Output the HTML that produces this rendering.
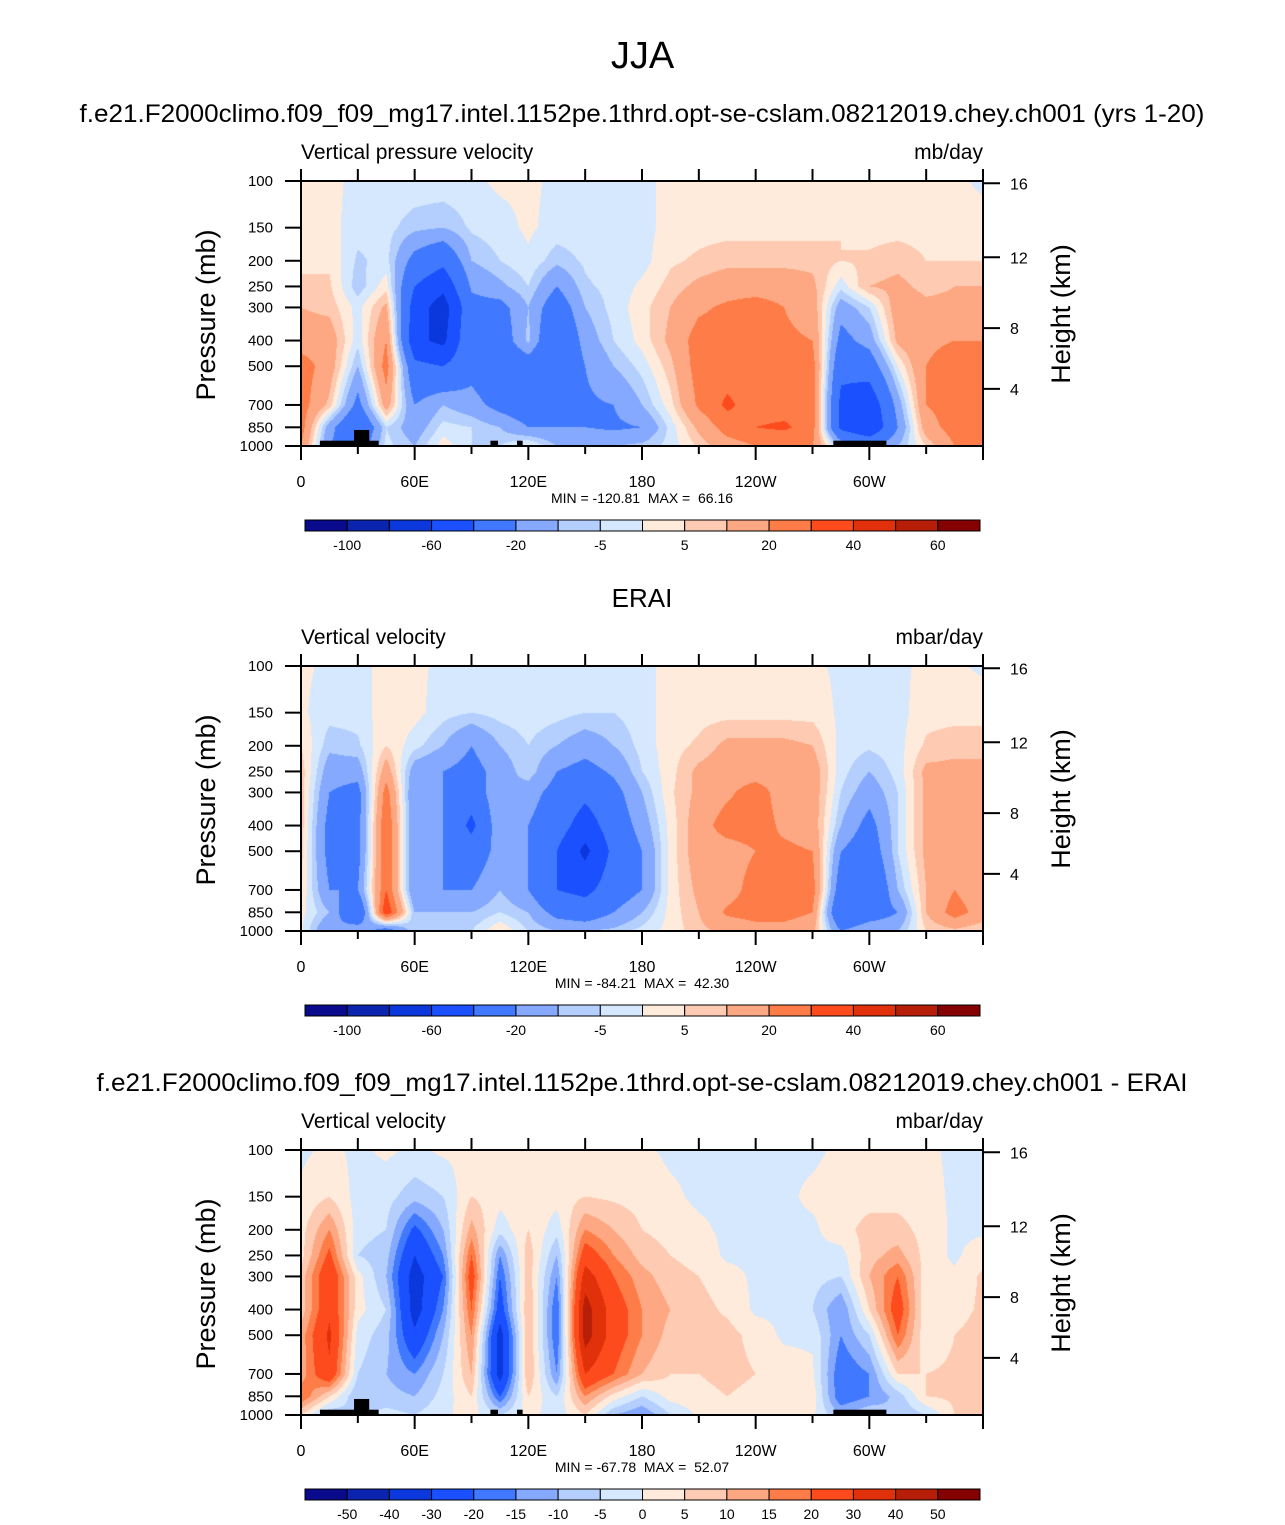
<!DOCTYPE html>
<html><head><meta charset="utf-8">
<style>
html,body{margin:0;padding:0;background:#fff;}
body{width:1285px;height:1525px;position:relative;overflow:hidden;font-family:"Liberation Sans",Arial,sans-serif;}
.t{position:absolute;white-space:nowrap;color:#000;}
canvas{position:absolute;}
svg{position:absolute;left:0;top:0;}
svg text{white-space:pre;}
</style></head>
<body>
<div class="t" style="left:0;width:1285px;text-align:center;top:35px;font-size:38px;">JJA</div>
<canvas id="c1" width="682" height="265" style="left:301px;top:181px"></canvas>
<canvas id="c2" width="682" height="265" style="left:301px;top:666px"></canvas>
<canvas id="c3" width="682" height="265" style="left:301px;top:1150px"></canvas>
<svg id="ov" width="1285" height="1525"></svg>
<script>
// ---- data ----
const lons = [0,15,30,45,60,75,90,105,120,135,150,165,180,195,210,225,240,255,270,285,300,315,330,345,360];
const pressures = [100,150,200,250,300,400,500,700,850,1000];
const pressureTicks = [100,150,200,250,300,400,500,700,850,1000];
const heightTicks = ["16","12","8","4"];
const heightPressures = [102,194,359,609];
const lonTickLabels = ["0","60E","120E","180","120W","60W"];
const levelsFull = [-100,-80,-60,-40,-20,-10,-5,0,5,10,20,30,40,50,60];
const levelsDiff = [-50,-40,-30,-20,-15,-10,-5,0,5,10,15,20,30,40,50];
const cbLabelsFull = ["-100","","-60","","-20","","-5","","5","","20","","40","","60"];
const cbLabelsDiff = ["-50","-40","-30","-20","-15","-10","-5","0","5","10","15","20","30","40","50"];
const palette = ["#0a0a8c","#0a24b0","#0a38dc","#1a50ff","#4079ff","#84a9ff","#b4cefd","#d5e8fd","#ffebdc","#fecab2","#fda882","#fe7c47","#fd4b1d","#e1310a","#b71e08","#850000"];
// values per longitude column, top (100mb) to bottom (1000mb)
const modelValues = [
[2,2,3,7,10,15,25,25,25,20],
[2,2,4,6,8,15,15,8,-15,-20],
[-2,-3,-6,-8,-2,-3,-10,-25,-40,-30],
[-1,-3,-3,3,12,20,25,15,-5,-3],
[-1,-8,-25,-40,-50,-55,-35,-20,-15,-10],
[-1,-10,-35,-55,-70,-65,-40,-10,-3,3],
[-1,-4,-10,-18,-25,-22,-25,-15,-5,-5],
[1,-2,-5,-12,-25,-30,-35,-25,-10,-5],
[1,1,-1,-5,-10,-8,-30,-30,-20,2],
[-1,-2,-8,-20,-30,-40,-40,-30,-20,-10],
[-2,-2,-4,-6,-10,-15,-20,-22,-20,-10],
[-2,-2,-2,-3,-3,-5,-10,-20,-22,-10],
[-2,-2,-2,1,3,2,-3,-10,-20,-8],
[2,2,4,7,10,12,8,3,-3,-3],
[2,3,6,12,18,25,25,22,12,6],
[2,3,8,15,22,25,25,32,25,15],
[2,3,8,15,25,25,25,25,30,20],
[2,3,8,15,20,22,25,25,32,20],
[2,3,8,12,15,20,25,25,25,20],
[2,5,5,-3,-15,-25,-35,-45,-45,-10],
[2,3,6,10,-5,-15,-30,-55,-60,-20],
[2,3,8,12,15,12,0,-15,-20,-10],
[2,3,5,8,12,18,20,20,15,5],
[1,3,5,10,12,20,25,25,25,20],
[-1,2,5,10,15,20,25,25,25,20]];
const eraiValues = [
[1,1,5,8,8,8,7,5,2,1],
[-1,-3,-8,-15,-20,-25,-25,-20,-10,-20],
[-1,-3,-6,-15,-25,-25,-25,-20,-40,-10],
[1,3,5,15,25,30,30,30,40,-30],
[1,2,-3,-15,-20,-20,-20,-20,-10,-5],
[-1,-3,-10,-20,-20,-20,-20,-20,-10,-5],
[-1,-5,-20,-25,-30,-45,-30,-20,-10,-5],
[-1,-3,-10,-15,-10,-10,-15,-10,-5,5],
[-1,-2,-5,-6,-15,-20,-20,-20,-10,-5],
[-1,-3,-10,-20,-25,-30,-40,-40,-25,-10],
[-1,-5,-15,-25,-35,-50,-65,-45,-30,-10],
[-1,-5,-10,-18,-25,-30,-35,-30,-20,-8],
[-1,-2,-3,-5,-10,-15,-20,-20,-10,-3],
[1,2,3,3,4,2,2,2,2,2],
[1,3,6,12,12,15,15,12,10,8],
[1,3,12,15,18,25,15,15,22,12],
[1,3,12,15,25,25,20,25,25,15],
[1,3,12,15,15,18,22,25,25,15],
[1,3,10,15,15,15,20,25,20,12],
[-1,-1,-2,-3,-5,-10,-20,-30,-40,-20],
[-1,-2,-4,-10,-15,-25,-30,-40,-30,-10],
[-1,-2,-2,-3,-5,-5,-5,-10,-20,-10],
[1,3,6,12,12,12,12,10,10,5],
[1,3,8,12,12,12,15,20,25,8],
[-1,3,8,12,12,12,12,12,15,5]];
const diffValues = [
[-1,1,3,3,7,7,12,12,20,5],
[1,5,15,22,28,28,32,28,5,-10],
[-1,-2,-3,-5,2,2,-2,-5,-10,-5],
[1,-3,-5,-8,-10,-5,-8,-10,-8,-3],
[-1,-8,-22,-30,-35,-35,-28,-15,-10,-5],
[1,-5,-10,-15,-20,-15,-10,-5,-3,-1],
[1,5,12,20,25,20,15,10,5,2],
[1,2,-3,-15,-20,-25,-35,-35,-20,-5],
[1,3,5,8,8,10,10,10,5,2],
[1,2,-3,-10,-15,-20,-20,-15,-5,-3],
[1,5,15,25,35,45,45,30,15,5],
[1,4,10,15,20,25,25,20,3,-10],
[1,3,5,8,12,15,15,10,-5,-15],
[-1,1,3,5,7,10,8,5,2,-5],
[-1,-1,1,3,5,7,7,5,3,1],
[-1,-1,-1,-1,2,4,7,7,5,2],
[-1,-1,-1,-1,-1,-1,3,5,3,1],
[-1,-1,-1,-1,-1,-1,-1,3,3,1],
[-1,1,-1,-1,-3,-5,-1,1,3,1],
[1,2,3,-2,-5,-15,-15,-20,-20,-10],
[1,3,7,8,10,5,-5,-15,-15,-5],
[1,3,7,12,20,25,20,5,-8,-10],
[1,2,3,3,2,1,1,5,5,-5],
[-1,-1,-1,-1,1,3,5,6,6,5],
[-1,-1,-1,3,6,6,7,10,8,5]];
// topography blocks
const topoLonStart = [10,28,100,114,281];
const topoLonEnd = [41,36,104,117,309];
const topoTopP = [955,870,955,955,955];

// ---- geometry ----
const X0=301, X1=983, PW=X1-X0, PH=265;
function xOf(lon){return X0 + lon/360*PW;}
function yOf(p, top){return top + (Math.log(p)-Math.log(100))/(Math.log(1000)-Math.log(100))*PH;}

function interp(vals, lon, lp){
  let i=Math.min(Math.floor(lon/15), lons.length-2);
  let fx=(lon-lons[i])/15;
  let lps=pressures.map(Math.log);
  let j=0; while(j<lps.length-2 && lp>lps[j+1]) j++;
  let fy=(lp-lps[j])/(lps[j+1]-lps[j]); fy=Math.max(0,Math.min(1,fy));
  let a=vals[i][j], b=vals[i+1][j], c=vals[i][j+1], d=vals[i+1][j+1];
  return (a*(1-fx)+b*fx)*(1-fy)+(c*(1-fx)+d*fx)*fy;
}
function hex(h){return [parseInt(h.substr(1,2),16),parseInt(h.substr(3,2),16),parseInt(h.substr(5,2),16)];}
const rgb=palette.map(hex);
function drawField(id, vals, levels){
  const cv=document.getElementById(id), ctx=cv.getContext('2d');
  const img=ctx.createImageData(PW,PH);
  for(let y=0;y<PH;y++){
    const lp=Math.log(100)+(y+0.5)/PH*(Math.log(1000)-Math.log(100));
    for(let x=0;x<PW;x++){
      const lon=(x+0.5)/PW*360;
      const v=interp(vals,lon,lp);
      let k=0; while(k<levels.length && v>=levels[k]) k++;
      const c=rgb[k], o=(y*PW+x)*4;
      img.data[o]=c[0];img.data[o+1]=c[1];img.data[o+2]=c[2];img.data[o+3]=255;
    }
  }
  ctx.putImageData(img,0,0);
}
drawField('c1',modelValues,levelsFull);
drawField('c2',eraiValues,levelsFull);
drawField('c3',diffValues,levelsDiff);

const NS='http://www.w3.org/2000/svg';
const ov=document.getElementById('ov');
function mk(tag,attrs,name){const e=document.createElementNS(NS,tag);for(const k in attrs)e.setAttribute(k,attrs[k]);


ov.appendChild(e);return e;}
function txt(x,y,s,size,anchor,name,rot,len){const e=mk('text',{x:x,y:y,'font-size':size,'text-anchor':anchor||'start','font-family':'Liberation Sans, Arial, sans-serif',fill:'#000'},name);
if(len){e.setAttribute('textLength',len);e.setAttribute('lengthAdjust','spacingAndGlyphs');}
if(rot)e.setAttribute('transform','rotate(-90 '+x+' '+y+')');e.textContent=s;return e;}

const panels=[
 {top:181,title:"f.e21.F2000climo.f09_f09_mg17.intel.1152pe.1thrd.opt-se-cslam.08212019.chey.ch001 (yrs 1-20)",tsize:25,tlen:1125,left:"Vertical pressure velocity",right:"mb/day",minmax:"MIN = -120.81  MAX =  66.16",cb:cbLabelsFull,topo:true},
 {top:666,title:"ERAI",tsize:26,tlen:0,left:"Vertical velocity",right:"mbar/day",minmax:"MIN = -84.21  MAX =  42.30",cb:cbLabelsFull,topo:false},
 {top:1150,title:"f.e21.F2000climo.f09_f09_mg17.intel.1152pe.1thrd.opt-se-cslam.08212019.chey.ch001 - ERAI",tsize:25,tlen:1091,left:"Vertical velocity",right:"mbar/day",minmax:"MIN = -67.78  MAX =  52.07",cb:cbLabelsDiff,topo:true}
];
panels.forEach((P,pi)=>{
  const T=P.top, B=T+PH;
  txt(642,T-59,P.title,P.tsize,'middle','panel-title',false,P.tlen);
  txt(301,T-22,P.left,21,'start','variable-label');
  txt(983,T-22,P.right,21,'end','units-label');
  if(P.topo){
    for(let i=0;i<topoLonStart.length;i++){
      const x=xOf(topoLonStart[i]), y=yOf(topoTopP[i],T);
      const r=mk('rect',{x:x,y:y,width:xOf(topoLonEnd[i])-x,height:B-y,fill:'#000'},'topography-block');
    }
  }
  mk('rect',{x:X0,y:T,width:PW,height:PH,fill:'none',stroke:'#000','stroke-width':2},'plot-frame');
  for(let lon=0;lon<=360;lon+=30){
    const x=xOf(lon), major=lon%60===0;
    mk('line',{x1:x,y1:T,x2:x,y2:T-12,stroke:'#000','stroke-width':2},'top-tick');
    mk('line',{x1:x,y1:B,x2:x,y2:B+(major?14:8),stroke:'#000','stroke-width':2},'bottom-tick');
  }
  lonTickLabels.forEach((s,i)=>txt(xOf(i*60),B+41,s,16,'middle','x-tick-label'));
  pressureTicks.forEach(p=>{
    const y=yOf(p,T);
    mk('line',{x1:285,y1:y,x2:X0,y2:y,stroke:'#000','stroke-width':2},'y-tick');
    txt(273,y+5,String(p),15,'end','y-tick-label');
  });
  heightPressures.forEach((p,i)=>{
    const y=yOf(p,T);
    mk('line',{x1:X1,y1:y,x2:1000,y2:y,stroke:'#000','stroke-width':2},'height-tick');
    txt(1010,y+6,heightTicks[i],16,'start','height-tick-label');
  });
  txt(215,T+134,"Pressure (mb)",27,'middle','y-axis-title',true);
  txt(1070,T+133,"Height (km)",27,'middle','height-axis-title',true);
  txt(642,B+57,P.minmax,14,'middle','min-max-label');
  const cy=B+74, cx0=305, cw=(980-305)/16;
  for(let k=0;k<16;k++){
    mk('rect',{x:cx0+k*cw,y:cy,width:cw,height:11,fill:palette[k],stroke:'#000','stroke-width':1},'colorbar-box');
  }
  P.cb.forEach((s,k)=>{ if(s) txt(cx0+(k+1)*cw,cy+30,s,14,'middle','colorbar-label'); });
});
</script>
</body></html>
